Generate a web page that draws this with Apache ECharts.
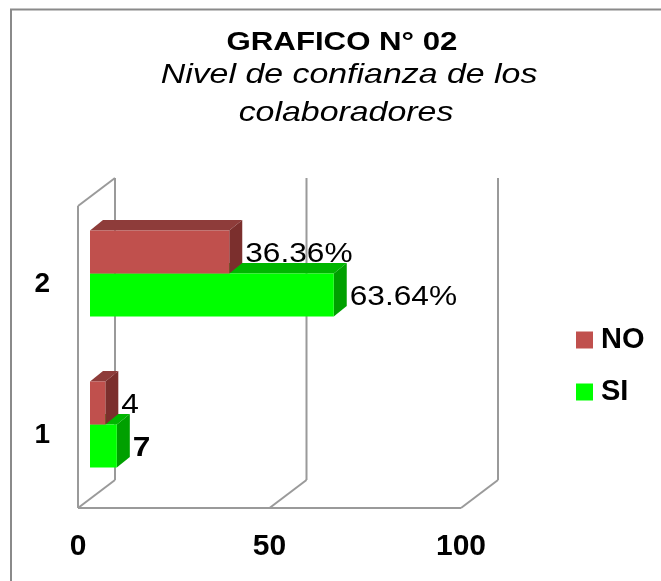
<!DOCTYPE html>
<html>
<head>
<meta charset="utf-8">
<script src="https://cdn.jsdelivr.net/npm/echarts@6/dist/echarts.min.js"></script>
<style>
html,body{margin:0;padding:0;background:#fff;}
#chart{width:661px;height:581px;}
</style>
</head>
<body>
<div id="chart"></div>
<script>
// ---- data ----
const categories = ['1', '2'];
const seriesNames = ['NO', 'SI'];
const noValues = [4, 36.36];
const siValues = [7, 63.64];
const noLabels = ['4', '36.36%'];
const siLabels = ['7', '63.64%'];
const xTicks = [0, 50, 100];
const titleText = 'GRAFICO N° 02';
const subtitleLines = ['Nivel de confianza de los', 'colaboradores'];

// ---- styling ----
const FONT = '"Liberation Sans", Arial, Helvetica, sans-serif';
const DEPTH = [13, -10.5];          // bar depth vector
const FRONT = [-12, 8];             // front wall plane offset
const BACK = [25, -20];             // back wall plane offset
const GRID_COLOR = '#9a9a9a';
const COLORS = {
  NO: { front: '#C0504D', top: '#8E3C3A', side: '#7B2F2D' },
  SI: { front: '#00FF00', top: '#00B600', side: '#00A000' }
};

function barRenderer(kind, labels) {
  return function (params, api) {
    const v = api.value(0), c = api.value(1);
    const p0 = api.coord([0, c]);
    const p1 = api.coord([v, c]);
    const band = api.size([0, 1])[1];
    const h = band * 0.285;
    const yT = kind === 'NO' ? p0[1] - h : p0[1];
    const x0 = p0[0], x1 = p1[0];
    const col = COLORS[kind];
    const dx = DEPTH[0], dy = DEPTH[1];
    const bold = (kind === 'SI' && c === 0);
    return {
      type: 'group',
      children: [
        { type: 'polygon', shape: { points: [[x0, yT], [x1, yT], [x1 + dx, yT + dy], [x0 + dx, yT + dy]] }, style: { fill: col.top } },
        { type: 'polygon', shape: { points: [[x1, yT], [x1 + dx, yT + dy], [x1 + dx, yT + h + dy], [x1, yT + h]] }, style: { fill: col.side } },
        { type: 'rect', shape: { x: x0, y: yT, width: x1 - x0, height: h }, style: { fill: col.front } },
        {
          type: 'text', x: x1 + dx + 3, y: yT + h / 2 + 2, scaleX: 1.13,
          style: { text: labels[c], fill: '#000', font: (bold ? 'bold ' : '') + '28px ' + FONT, textAlign: 'left', textVerticalAlign: 'middle' }
        }
      ]
    };
  };
}

function wallRenderer(params, api) {
  const v = api.value(0);
  const cs = params.coordSys;
  const x = api.coord([v, 0])[0];
  const yt = cs.y, yb = cs.y + cs.height;
  const st = { stroke: GRID_COLOR, lineWidth: 2, fill: null };
  const L = (a, b, c, d) => ({ type: 'line', shape: { x1: a, y1: b, x2: c, y2: d }, style: st });
  const ch = [];
  ch.push(L(x + FRONT[0], yb + FRONT[1], x + BACK[0], yb + BACK[1]));
  ch.push(L(x + BACK[0], yt + BACK[1], x + BACK[0], yb + BACK[1]));
  if (v === xTicks[0]) {
    const xm = api.coord([xTicks[xTicks.length - 1], 0])[0];
    ch.push(L(x + FRONT[0], yt + FRONT[1], x + FRONT[0], yb + FRONT[1]));
    ch.push(L(x + FRONT[0], yt + FRONT[1], x + BACK[0], yt + BACK[1]));
    ch.push(L(x + FRONT[0], yb + FRONT[1], xm + FRONT[0], yb + FRONT[1]));
  }
  return { type: 'group', children: ch };
}

const chart = echarts.init(document.getElementById('chart'), null, { renderer: 'canvas' });
chart.setOption({
  animation: false,
  backgroundColor: '#fff',
  textStyle: { fontFamily: FONT },
  graphic: [
    { type: 'rect', silent: true, shape: { x: 11, y: 9.5, width: 800, height: 800 }, style: { fill: null, stroke: '#8a8a8a', lineWidth: 2 } },
    { type: 'text', x: 342, y: 43, scaleX: 1.2, style: { text: titleText, font: 'bold 26px ' + FONT, fill: '#000', textAlign: 'center', textVerticalAlign: 'middle' } },
    { type: 'text', x: 349, y: 75, scaleX: 1.21, style: { text: subtitleLines[0], font: 'italic 28px ' + FONT, fill: '#000', textAlign: 'center', textVerticalAlign: 'middle' } },
    { type: 'text', x: 346, y: 113, scaleX: 1.21, style: { text: subtitleLines[1], font: 'italic 28px ' + FONT, fill: '#000', textAlign: 'center', textVerticalAlign: 'middle' } }
  ],
  legend: {
    data: seriesNames,
    orient: 'vertical',
    left: 571,
    top: 320,
    icon: 'rect',
    itemWidth: 17,
    itemHeight: 17,
    itemGap: 22,
    textStyle: { fontFamily: FONT, fontWeight: 'bold', fontSize: 29, color: '#000', lineHeight: 30, padding: [0, 0, 0, 3] }
  },
  grid: { left: 90, width: 383, top: 198, height: 302 },
  xAxis: {
    type: 'value', min: 0, max: 100, interval: 50,
    axisLine: { show: false }, axisTick: { show: false }, splitLine: { show: false },
    axisLabel: { fontFamily: FONT, fontWeight: 'bold', fontSize: 30, color: '#000', margin: 32, padding: [0, 24, 0, 0] }
  },
  yAxis: {
    type: 'category', data: categories,
    axisLine: { show: false }, axisTick: { show: false }, splitLine: { show: false },
    axisLabel: { fontFamily: FONT, fontWeight: 'bold', fontSize: 28, color: '#000', margin: 40, verticalAlign: 'top', lineHeight: 22 }
  },
  series: [
    { type: 'custom', name: 'walls', silent: true, z: 1, renderItem: wallRenderer, encode: { x: 0, y: 1 }, data: xTicks.map(v => [v, 0]) },
    { type: 'custom', name: 'SI', z: 2, itemStyle: { color: COLORS.SI.front }, renderItem: barRenderer('SI', siLabels), encode: { x: 0, y: 1 }, data: siValues.map((v, i) => [v, i]) },
    { type: 'custom', name: 'NO', z: 3, itemStyle: { color: COLORS.NO.front }, renderItem: barRenderer('NO', noLabels), encode: { x: 0, y: 1 }, data: noValues.map((v, i) => [v, i]) }
  ]
});
</script>
</body>
</html>
